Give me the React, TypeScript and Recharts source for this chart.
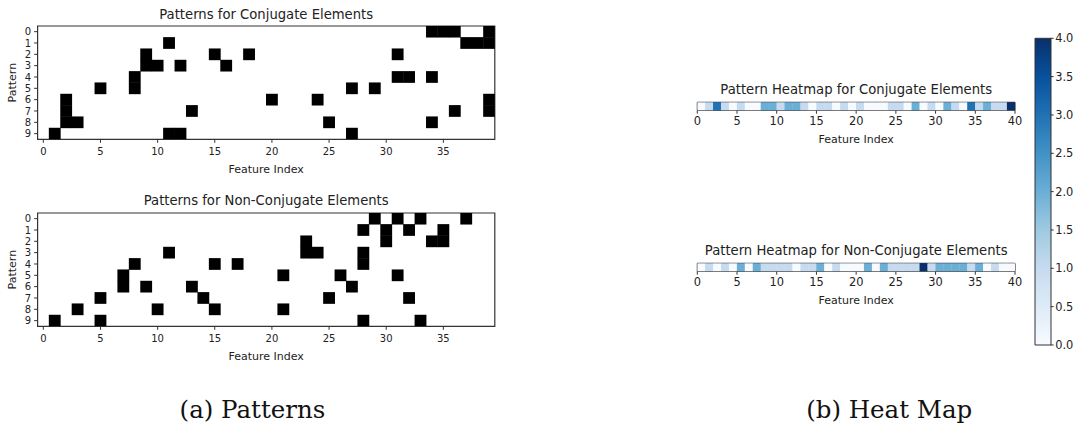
import React from 'react';
import { ScatterChart, Scatter, XAxis, YAxis, ReferenceArea, BarChart, Bar } from 'recharts';

// switched-on feature indices of each pattern row (row 0 on top)
const conjugateRows = [
  [34, 35, 36, 39],
  [11, 37, 38, 39],
  [9, 15, 18, 31],
  [9, 10, 12, 16],
  [8, 31, 32, 34],
  [5, 8, 27, 29],
  [2, 20, 24, 39],
  [2, 13, 36, 39],
  [2, 3, 25, 34],
  [1, 11, 12, 27],
];

const nonConjugateRows = [
  [29, 31, 33, 37],
  [28, 30, 32, 35],
  [23, 30, 34, 35],
  [11, 23, 24, 28],
  [8, 15, 17, 28],
  [7, 21, 26, 31],
  [7, 9, 13, 27],
  [5, 14, 25, 32],
  [3, 10, 15, 21],
  [1, 5, 28, 33],
];

// heat map counts per feature index 0..39
const conjugateHeat = [
  0, 1, 3, 1, 0, 1, 0, 0, 2, 2,
  1, 2, 2, 1, 0, 1, 1, 0, 1, 0,
  1, 0, 0, 0, 1, 1, 0, 2, 0, 1,
  0, 2, 1, 0, 3, 1, 2, 1, 1, 4,
];
const nonConjugateHeat = [
  0, 1, 0, 1, 0, 2, 0, 2, 1, 1,
  1, 1, 0, 1, 1, 2, 0, 1, 0, 0,
  0, 2, 0, 2, 1, 1, 1, 1, 4, 1,
  2, 2, 2, 2, 1, 2, 0, 1, 0, 0,
];

const patternTicks = [0, 1, 2, 3, 4, 5, 6, 7, 8, 9];
const featureTicks = [0, 5, 10, 15, 20, 25, 30, 35];
const heatTicks = [0, 5, 10, 15, 20, 25, 30, 35, 40];
const colorbarTicks = [0, 0.5, 1, 1.5, 2, 2.5, 3, 3.5, 4];
const colorbarRange = [{ name: 'count', max: 4 }];

// matplotlib "Blues" at v / 4
const BLUES: Record<number, string> = {
  0: '#f7fbff',
  1: '#c6dbef',
  2: '#6baed6',
  3: '#2171b5',
  4: '#08306b',
};
const BLUES_STOPS = ['#f7fbff', '#deebf7', '#c6dbef', '#9ecae1', '#6baed6', '#4292c6', '#2171b5', '#08519c', '#08306b'];

const FONT = '"DejaVu Sans", sans-serif';
const INK = '#222';
const FRAME = '#333';

const GRID_W = 510;
const GRID_H = 180;
const GRID_MARGIN = { top: 26, right: 15.2, bottom: 0, left: 0 };
const GRID_YAXIS_W = 37.6;
const GRID_XAXIS_H = 40.7;

function PatternGrid({ rows, top }: { rows: number[][]; top: number }) {
  const data = rows.flatMap((cols, r) => cols.map((c) => ({ x: c, y: r })));
  const plotW = GRID_W - GRID_MARGIN.left - GRID_MARGIN.right - GRID_YAXIS_W;
  const plotH = GRID_H - GRID_MARGIN.top - GRID_MARGIN.bottom - GRID_XAXIS_H;
  const cw = plotW / 40;
  const ch = plotH / 10;
  const tick = { fill: INK, fontSize: 10, fontFamily: FONT };

  return (
    <div style={{ position: 'absolute', left: 0, top }}>
      <ScatterChart width={GRID_W} height={GRID_H} margin={GRID_MARGIN}>
        <XAxis
          type="number"
          dataKey="x"
          domain={[-0.5, 39.5]}
          allowDataOverflow
          ticks={featureTicks}
          interval={0}
          height={GRID_XAXIS_H}
          axisLine={false}
          tickLine={{ stroke: FRAME }}
          tickSize={3.5}
          tickMargin={5.5}
          tick={tick}
          label={{ value: 'Feature Index', position: 'insideBottom', offset: 7, fill: INK, fontSize: 11, fontFamily: FONT }}
        />
        <YAxis
          type="number"
          dataKey="y"
          domain={[-0.5, 9.5]}
          allowDataOverflow
          reversed
          ticks={patternTicks}
          interval={0}
          width={GRID_YAXIS_W}
          axisLine={false}
          tickLine={{ stroke: FRAME }}
          tickSize={3.5}
          tickMargin={3}
          tick={tick}
          label={{
            value: 'Pattern',
            angle: -90,
            position: 'insideLeft',
            offset: 12.5,
            fill: INK,
            fontSize: 11,
            fontFamily: FONT,
            style: { textAnchor: 'middle' },
          }}
        />
        <Scatter
          data={data}
          isAnimationActive={false}
          shape={(p: any) => (
            <rect x={p.cx - cw / 2 - 0.2} y={p.cy - ch / 2 - 0.2} width={cw + 0.4} height={ch + 0.4} fill="#000" />
          )}
        />
        <ReferenceArea x1={-0.5} x2={39.5} y1={-0.5} y2={9.5} fill="none" stroke={FRAME} strokeWidth={1.2} />
      </ScatterChart>
    </div>
  );
}

const HEAT_W = 360;
const HEAT_H = 80;
const HEAT_MARGIN = { top: 32.3, right: 25, bottom: 0, left: 17.3 };
const HEAT_XAXIS_H = 39.8;

function HeatStrip({ values, top }: { values: number[]; top: number }) {
  const data = values.map((v, i) => ({ x: i + 0.5, y: 0, v }));
  const plotW = HEAT_W - HEAT_MARGIN.left - HEAT_MARGIN.right;
  const plotH = HEAT_H - HEAT_MARGIN.top - HEAT_MARGIN.bottom - HEAT_XAXIS_H;
  const cw = plotW / 40;

  return (
    <div style={{ position: 'absolute', left: 680, top }}>
      <ScatterChart width={HEAT_W} height={HEAT_H} margin={HEAT_MARGIN}>
        <XAxis
          type="number"
          dataKey="x"
          domain={[0, 40]}
          allowDataOverflow
          ticks={heatTicks}
          interval={0}
          height={HEAT_XAXIS_H}
          axisLine={false}
          tickLine={{ stroke: FRAME }}
          tickSize={3.5}
          tickMargin={3.3}
          tick={{ fill: INK, fontSize: 11.4, fontFamily: FONT }}
          label={{ value: 'Feature Index', position: 'insideBottom', offset: 7, fill: INK, fontSize: 11, fontFamily: FONT }}
        />
        <YAxis type="number" dataKey="y" domain={[-0.5, 0.5]} hide />
        <Scatter
          data={data}
          isAnimationActive={false}
          shape={(p: any) => (
            <rect
              x={p.cx - cw / 2 - 0.15}
              y={p.cy - plotH / 2}
              width={cw + 0.3}
              height={plotH}
              fill={BLUES[p.payload.v]}
            />
          )}
        />
        <ReferenceArea x1={0} x2={40} y1={-0.5} y2={0.5} fill="none" stroke="#111" strokeWidth={1} />
      </ScatterChart>
    </div>
  );
}

function Colorbar() {
  return (
    <div style={{ position: 'absolute', left: 1020, top: 20 }}>
      <BarChart
        width={58}
        height={340}
        data={colorbarRange}
        margin={{ top: 18.3, right: 0, bottom: 15, left: 15 }}
        barCategoryGap={0}
        barGap={0}
      >
        <defs>
          <linearGradient id="bluesGrad" x1="0" y1="1" x2="0" y2="0">
            {BLUES_STOPS.map((c, i) => (
              <stop key={c} offset={`${(i / (BLUES_STOPS.length - 1)) * 100}%`} stopColor={c} />
            ))}
          </linearGradient>
        </defs>
        <XAxis dataKey="name" hide />
        <YAxis
          orientation="right"
          type="number"
          domain={[0, 4]}
          ticks={colorbarTicks}
          interval={0}
          width={27.3}
          axisLine={false}
          tickLine={{ stroke: FRAME }}
          tickSize={3}
          tickMargin={1.5}
          tick={{ fill: INK, fontSize: 11.4, fontFamily: FONT }}
          tickFormatter={(v: number) => v.toFixed(1)}
        />
        <Bar dataKey="max" fill="url(#bluesGrad)" stroke={FRAME} strokeWidth={1} isAnimationActive={false} />
      </BarChart>
    </div>
  );
}

export default function App() {
  const title = { fill: INK, fontSize: 13.2, fontFamily: FONT, textAnchor: 'middle' as const };
  const caption = { fill: '#111', fontSize: 24.5, fontFamily: '"DejaVu Serif", serif', textAnchor: 'middle' as const };

  return (
    <div style={{ position: 'absolute', left: 0, top: 0, width: 1078, height: 430, background: '#fff', overflow: 'hidden' }}>
      <PatternGrid rows={conjugateRows} top={0} />
      <PatternGrid rows={nonConjugateRows} top={187.3} />
      <HeatStrip values={conjugateHeat} top={70} />
      <HeatStrip values={nonConjugateHeat} top={230.7} />
      <Colorbar />
      <svg width={1078} height={430} style={{ position: 'absolute', left: 0, top: 0, pointerEvents: 'none' }}>
        <text x={266.2} y={18.5} {...title}>Patterns for Conjugate Elements</text>
        <text x={266.2} y={204.8} {...title}>Patterns for Non-Conjugate Elements</text>
        <text x={856.2} y={94} {...title}>Pattern Heatmap for Conjugate Elements</text>
        <text x={856.2} y={255} {...title}>Pattern Heatmap for Non-Conjugate Elements</text>
        <text x={252.5} y={417.5} {...caption}>(a) Patterns</text>
        <text x={889.2} y={417.5} {...caption}>(b) Heat Map</text>
      </svg>
    </div>
  );
}
